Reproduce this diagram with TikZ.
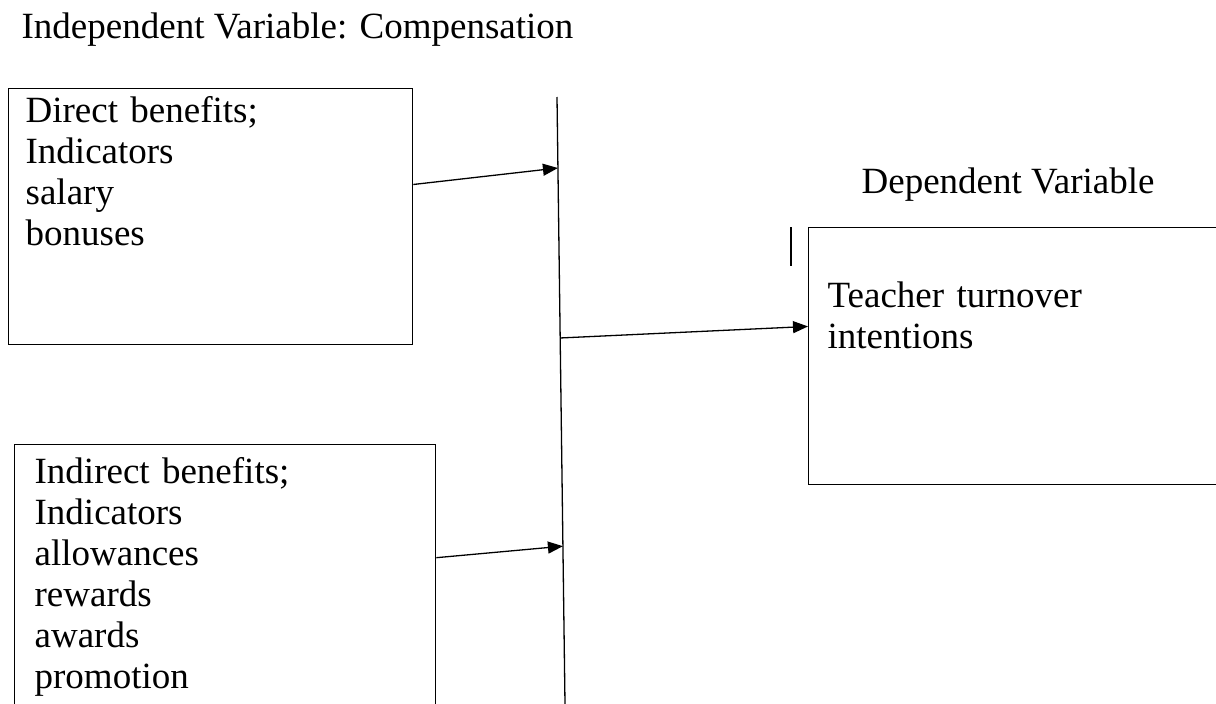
\documentclass[tikz,border=0pt]{standalone}
\usepackage{fontspec}
\setmainfont{Liberation Serif}
\usetikzlibrary{arrows.meta, calc, positioning}
\tikzstyle{diagram}=[x=1pt, y=-1pt, line width=1.3pt, >={Triangle[length=15pt, width=12pt]}, font=\fontsize{37}{41}\selectfont]
\tikzstyle{factor}=[draw, anchor=north west, align=left, inner ysep=0pt]
\tikzstyle{caption}=[anchor=base west, inner sep=0pt]

\begin{document}
\begin{tikzpicture}[diagram]
  \useasboundingbox (0,0) rectangle (1216,704);

  \node[caption] (indep) at (21,38) {Independent Variable: Compensation};
  \node[caption] (dep)   at (861,193) {Dependent Variable};

  \node[factor, inner xsep=17pt, text width=370pt, text height=34pt, text depth=222pt]
    (direct) at (8,88) {Direct benefits;\\ Indicators\\ salary\\ bonuses};
  \node[factor, inner xsep=20pt, text width=381pt, text height=39pt, text depth=237pt]
    (indirect) at (14,444) {Indirect benefits;\\ Indicators\\ allowances\\ rewards\\ awards\\ promotion};
  \node[factor, inner xsep=19pt, text width=400pt, text height=80pt, text depth=177pt]
    (teacher) at (808,227) {Teacher turnover\\ intentions};

  % the long vertical line
  \coordinate (spinetop) at (557,97);
  \coordinate (spinebot) at (565,704);
  \draw (spinetop) -- (spinebot);
  \draw ([xshift=-17pt]teacher.north west) -- ++(0,39);

  \path[->]
    ($(direct.north east)!0.375!(direct.south east)$)
      edge ($(spinetop)!0.117!(spinebot)$)
    ($(indirect.north east)!0.41!(indirect.south east)$)
      edge ($(spinetop)!0.74!(spinebot)$)
    ($(spinetop)!0.397!(spinebot)$)
      edge ($(teacher.north west)!0.385!(teacher.south west)$);
\end{tikzpicture}
\end{document}
